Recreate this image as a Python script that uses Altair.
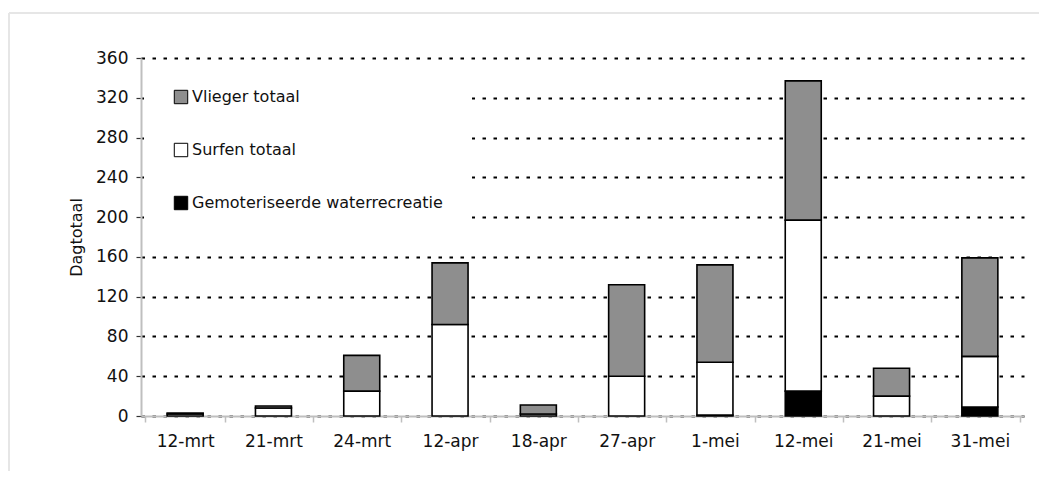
import altair as alt
import pandas as pd

dates = ["12-mrt", "21-mrt", "24-mrt", "12-apr", "18-apr", "27-apr", "1-mei", "12-mei", "21-mei", "31-mei"]
motor = [0, 0, 0, 0, 0, 0, 1, 25, 0, 9]
surfen = [2, 8, 25, 92, 2, 40, 53, 172, 20, 51]
vlieger = [1, 2, 36, 62, 9, 92, 98, 140, 28, 99]

series_names = ["Vlieger totaal", "Surfen totaal", "Gemoteriseerde waterrecreatie"]
series_colors = ["#8e8e8e", "#ffffff", "#000000"]
y_ticks = [0, 40, 80, 120, 160, 200, 240, 280, 320, 360]

rows = []
for i, d in enumerate(dates):
    for name, vals, order in [
        ("Gemoteriseerde waterrecreatie", motor, 0),
        ("Surfen totaal", surfen, 1),
        ("Vlieger totaal", vlieger, 2),
    ]:
        if vals[i] > 0:
            rows.append({"datum": d, "reeks": name, "waarde": vals[i], "volgorde": order})
df = pd.DataFrame(rows)

FONT = "DejaVu Sans"

bars = alt.Chart(df).mark_bar(size=36, stroke="black", strokeWidth=1.6).encode(
    x=alt.X("datum:N", sort=dates, title=None,
            axis=alt.Axis(labelAngle=0, tickBand="extent", grid=False,
                          domainColor="#bfbfbf", domainWidth=2,
                          tickColor="#bfbfbf", tickWidth=1.5,
                          tickSize=6, labelPadding=11, labelFontSize=17,
                          labelFont=FONT, labelColor="#111")),
    y=alt.Y("sum(waarde):Q", title="Dagtotaal", stack="zero",
            scale=alt.Scale(domain=[0, 360], nice=False),
            axis=alt.Axis(values=y_ticks, grid=True, gridColor="black",
                          gridDash=[3.5, 7.5], gridWidth=1.8,
                          domainColor="#bfbfbf", domainWidth=2,
                          tickColor="#333", tickSize=5, tickWidth=1.2,
                          labelPadding=8, labelFontSize=17, labelFont=FONT,
                          labelColor="#111", titleFont=FONT, titleFontSize=16,
                          titleFontWeight="normal", titleColor="#111",
                          titlePadding=11)),
    color=alt.Color("reeks:N",
                    scale=alt.Scale(domain=series_names, range=series_colors),
                    legend=alt.Legend(title=None, orient="none", legendX=3, legendY=2,
                                      direction="vertical", symbolType="square",
                                      symbolSize=180, symbolStrokeColor="black",
                                      symbolStrokeWidth=1, labelFont=FONT,
                                      labelFontSize=16, labelColor="#111",
                                      labelLimit=0, labelOffset=3, rowPadding=35,
                                      padding=29, fillColor="white")),
    order=alt.Order("volgorde:Q", sort="ascending"),
)

frame_top = alt.Chart(df).mark_rule(color="#e6e6e6", strokeWidth=1.5, clip=False).encode(
    x=alt.value(-132), x2=alt.value(906), y=alt.value(-45)
)
frame_left = alt.Chart(df).mark_rule(color="#e6e6e6", strokeWidth=1.5, clip=False).encode(
    x=alt.value(-132), y=alt.value(-45), y2=alt.value(421)
)

chart = alt.layer(frame_top, frame_left, bars).properties(
    width=883, height=358,
    background="white",
    autosize=alt.AutoSizeParams(type="none"),
    padding={"left": 133, "top": 50, "right": 15, "bottom": 55},
).configure_view(stroke=None)

chart.save("out.html", embed_options={"renderer": "svg", "actions": False})
